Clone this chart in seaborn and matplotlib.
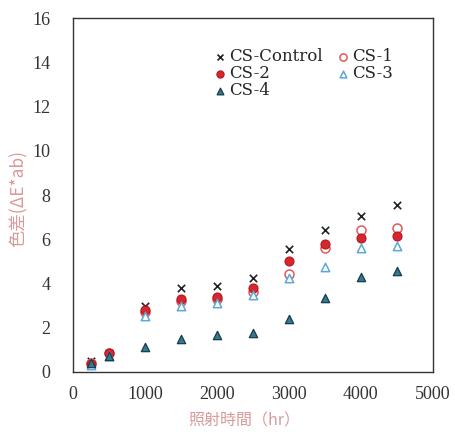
import numpy as np
import pandas as pd
import matplotlib
matplotlib.use("Agg")
import matplotlib.pyplot as plt
import seaborn as sns

hours = [250, 500, 1000, 1500, 2000, 2500, 3000, 3500, 4000, 4500]
cs_control = [0.5, 0.85, 3.0, 3.8, 3.9, 4.25, 5.55, 6.4, 7.05, 7.55]
cs_1 = [0.4, 0.85, 2.7, 3.2, 3.3, 3.6, 4.45, 5.6, 6.4, 6.5]
cs_2 = [0.35, 0.85, 2.8, 3.3, 3.4, 3.8, 5.0, 5.8, 6.05, 6.15]
cs_3 = [0.3, 0.7, 2.55, 3.0, 3.1, 3.5, 4.25, 4.75, 5.6, 5.7]
cs_4 = [0.4, 0.7, 1.15, 1.5, 1.65, 1.78, 2.4, 3.35, 4.3, 4.55]

sns.set_theme(style="white")
plt.rcParams['font.family'] = ['Liberation Serif', 'Noto Sans CJK JP']

fig = plt.figure(figsize=(4.56, 4.32), dpi=100)
ax = fig.add_axes([0.160, 0.139, 0.789, 0.819])

series = [
    ("CS-Control", cs_control, dict(marker="x", color="#222222", s=28, linewidth=1.2)),
    ("CS-1", cs_1, dict(marker="o", facecolor="white", edgecolor="#e05a5a", s=42, linewidth=1.1)),
    ("CS-2", cs_2, dict(marker="o", color="#d8262e", edgecolor="#b01820", s=42, linewidth=0.8)),
    ("CS-3", cs_3, dict(marker="^", facecolor="white", edgecolor="#5aa8d8", s=36, linewidth=1.1)),
    ("CS-4", cs_4, dict(marker="^", color="#2e7c8c", edgecolor="#1c3a50", s=36, linewidth=0.9)),
]
for name, vals, kw in series:
    df = pd.DataFrame({"hr": hours, "dE": vals})
    sns.scatterplot(data=df, x="hr", y="dE", ax=ax, label=name, **kw)

ax.set_xlim(0, 5000)
ax.set_ylim(0, 16)
ax.set_xticks([0, 1000, 2000, 3000, 4000, 5000])
ax.set_yticks(range(0, 17, 2))
ax.tick_params(axis="both", length=0, labelsize=13, colors="#333333")
ax.tick_params(axis="y", pad=16)
ax.tick_params(axis="x", pad=10)
for sp in ax.spines.values():
    sp.set_color("#333333")
    sp.set_linewidth(1.0)

ax.set_xlabel("照射時間（hr）", color="#d89a9a", fontsize=11.5,
              family=['Noto Sans CJK JP', 'Liberation Serif'])
ax.xaxis.set_label_coords(0.475, -0.115)
ax.set_ylabel("色差(ΔE*ab)", color="#d89a9a", fontsize=12.5,
              family=['Noto Sans CJK JP', 'Liberation Serif'])
ax.yaxis.set_label_coords(-0.125, 0.49)

h, l = ax.get_legend_handles_labels()
order = [0, 2, 4, 1, 3]
ax.legend([h[i] for i in order], [l[i] for i in order], ncol=2, frameon=False,
          loc="upper left", bbox_to_anchor=(0.385, 0.915),
          prop={'family': 'DejaVu Serif', 'size': 12},
          handletextpad=0.05, columnspacing=0.7, labelspacing=0.0,
          markerscale=0.8, handlelength=1.0, borderaxespad=0, borderpad=0)

fig.savefig("out.png", dpi=100)
